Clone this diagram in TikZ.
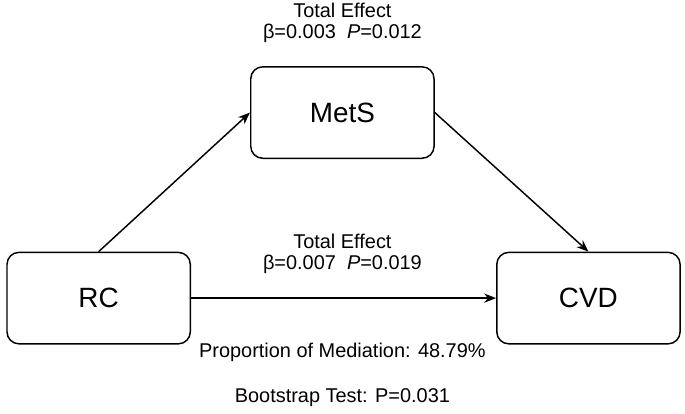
\documentclass[tikz,border=0pt]{standalone}
\usepackage{fontspec}
\setmainfont{Liberation Sans}
\usetikzlibrary{arrows.meta}

\tikzset{
  box/.style={draw, rounded corners=9pt, minimum width=4.85cm, minimum height=2.42cm, font=\fontsize{21}{25}\selectfont},
  lbl/.style={font=\fontsize{15}{15.75}\selectfont, align=center},
}

\begin{document}
\begin{tikzpicture}[x=1cm,y=1cm,line width=1.1pt,>={Stealth[length=9pt,width=7pt]}]
        \useasboundingbox (0,0) rectangle (18.125,10.928);
        \coordinate (MetSPos) at (9.06, 7.95);
        \coordinate (RCPos) at (2.61, 3.04);
        \coordinate (CVDPos) at (15.57, 3.04);

        % Boxes
        \node[box] (MetS) at (MetSPos) {MetS};
        \node[box] (RC) at (RCPos) {RC};
        \node[box] (CVD) at (CVDPos) {CVD};

        % Paths
        \draw[->] (RC.north) -- (MetS.west);
        \draw[->] (MetS.east) -- (CVD.north);
        \draw[->] (RC.east) -- (CVD.west);

        % Effects
        \node[lbl] (effTop) at (9.06, 10.33) {Total Effect\\β=0.003\ \ \textit{P}=0.012};
        \node[lbl] (effMid) at (9.06, 4.205) {Total Effect\\β=0.007\ \ \textit{P}=0.019};

        % Mediation
        \node[lbl] (prop) at (9.06, 1.61) {Proportion of Mediation: 48.79\%};
        \node[lbl] (boot) at (9.06, 0.40) {Bootstrap Test: P=0.031};
    \end{tikzpicture}
\end{document}
